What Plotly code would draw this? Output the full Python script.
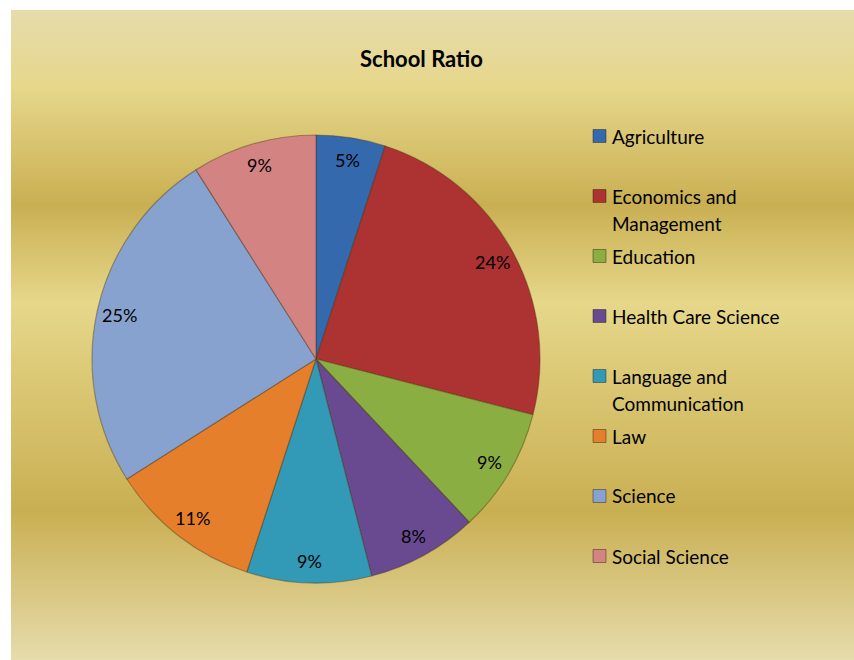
import math
import textwrap

import numpy as np
import plotly.graph_objects as go

W, H = 854, 660

# ---- data -------------------------------------------------------------
categories = [
    "Agriculture",
    "Economics and Management",
    "Education",
    "Health Care Science",
    "Language and Communication",
    "Law",
    "Science",
    "Social Science",
]
shares = [5, 24, 9, 8, 9, 11, 25, 9]
slice_colors = [
    "#3569ad",  # Agriculture
    "#ad3232",  # Economics and Management
    "#8aae42",  # Education
    "#694a91",  # Health Care Science
    "#3299b7",  # Language and Communication
    "#e67f2b",  # Law
    "#88a2d0",  # Science
    "#d48383",  # Social Science
]
title_text = "School Ratio"

FONT = "Lato, 'Open Sans', sans-serif"

# ---- geometry (pixels) --------------------------------------------------
box_left, box_top = 11, 10          # gold chart area
cx, cy, R = 316, 359, 224           # pie centre / radius
label_r = 0.9                       # data labels sit near the rim

# gold gradient backdrop (Office "Gold" style)
gold_scale = [
    [0.00, "#e6dcac"],
    [0.12, "#e6d78a"],
    [0.30, "#c9af52"],
    [0.45, "#e6d78a"],
    [0.77, "#c9af52"],
    [1.00, "#e6dcac"],
]
box_h = H - box_top
rows = np.arange(box_h) + 0.5
grad = [[r / box_h, r / box_h] for r in rows]

fig = go.Figure()

fig.add_trace(go.Heatmap(
    z=grad, x=[0, 1], y=rows,
    colorscale=gold_scale, zmin=0, zmax=1,
    showscale=False, hoverinfo="skip",
    xaxis="x", yaxis="y",
))

fig.add_trace(go.Pie(
    labels=categories,
    values=shares,
    sort=False,
    direction="clockwise",
    rotation=0,
    marker=dict(colors=slice_colors,
                line=dict(color="rgba(70,50,20,0.4)", width=1.2)),
    textinfo="none",
    showlegend=False,
    domain=dict(x=[(cx - R) / W, (cx + R) / W],
                y=[1 - (cy + R) / H, 1 - (cy - R) / H]),
))

annotations = []

# percentage labels placed at each slice's mid-angle
total = sum(shares)
cum = 0
for v in shares:
    mid = (cum + v / 2) / total
    cum += v
    ang = 2 * math.pi * mid
    px = cx + label_r * R * math.sin(ang)
    py = cy - label_r * R * math.cos(ang)
    annotations.append(dict(
        x=px / W, y=1 - py / H, xref="paper", yref="paper",
        text=f"{round(100 * v / total)}%", showarrow=False,
        xanchor="center", yanchor="middle",
        font=dict(family=FONT, size=18, color="#000000"),
    ))

# title
annotations.append(dict(
    x=421 / W, y=1 - 58 / H, xref="paper", yref="paper",
    text=f"<b>{title_text}</b>", showarrow=False,
    xanchor="center", yanchor="middle",
    font=dict(family=FONT, size=22, color="#000000"),
))

# legend: fixed 60 px slots, wrapped names, square swatches
shapes = []
leg_x_sq, leg_x_txt, leg_y0, leg_step, line_gap, sq = 593, 610, 136, 60, 27, 13
for i, (name, col) in enumerate(zip(categories, slice_colors)):
    yc = leg_y0 + i * leg_step
    shapes.append(dict(
        type="rect", xref="paper", yref="paper",
        x0=leg_x_sq / W, x1=(leg_x_sq + sq) / W,
        y0=1 - (yc + sq / 2) / H, y1=1 - (yc - sq / 2) / H,
        fillcolor=col, line=dict(color="rgba(40,30,20,0.45)", width=1),
    ))
    for k, line in enumerate(textwrap.wrap(name, width=20)):
        annotations.append(dict(
            x=leg_x_txt / W, y=1 - (yc + k * line_gap) / H,
            xref="paper", yref="paper",
            text=line, showarrow=False,
            xanchor="left", yanchor="middle",
            font=dict(family=FONT, size=19, color="#000000"),
        ))

fig.update_layout(
    width=W, height=H,
    margin=dict(l=0, r=0, t=0, b=0),
    paper_bgcolor="#ffffff",
    plot_bgcolor="rgba(0,0,0,0)",
    xaxis=dict(domain=[box_left / W, 1], range=[-0.5, 1.5],
               visible=False, fixedrange=True),
    yaxis=dict(domain=[0, 1 - box_top / H], range=[box_h, 0],
               visible=False, fixedrange=True),
    annotations=annotations,
    shapes=shapes,
    showlegend=False,
)

fig.write_html("out.html")
